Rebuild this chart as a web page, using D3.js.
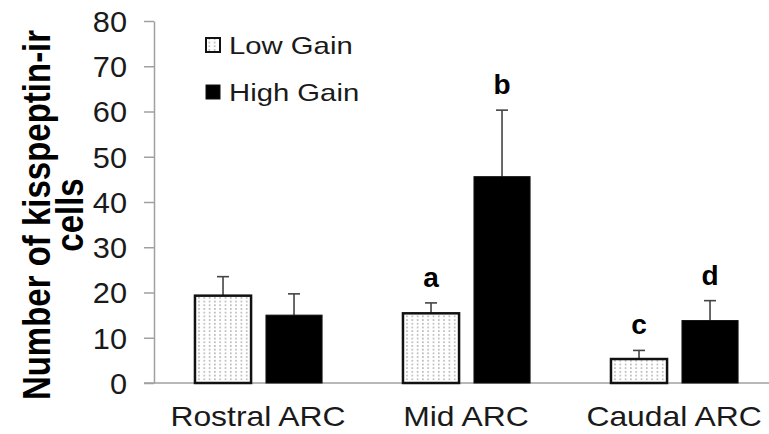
<!DOCTYPE html>
<html>
<head>
<meta charset="utf-8">
<script src="https://cdn.jsdelivr.net/npm/d3@7"></script>
<style>
  body { margin: 0; background: #fff; }
  svg { display: block; font-family: "Liberation Sans", Arial, sans-serif; }
</style>
</head>
<body>
<div id="chart"></div>
<script>
// data
var categories = ["Rostral ARC", "Mid ARC", "Caudal ARC"];
var series = ["Low Gain", "High Gain"];
var lowGain = [19.3, 15.4, 5.3];
var lowErr = [4.2, 2.3, 1.9];
var highGain = [15.0, 45.6, 13.8];
var highErr = [4.7, 14.7, 4.4];
var lowLetters = ["", "a", "c"];
var highLetters = ["", "b", "d"];
var yTicks = [0, 10, 20, 30, 40, 50, 60, 70, 80];

var svgWidth = 769;
var svgHeight = 434;

var svg = d3.select("#chart")
  .append("svg")
  .attr("width", svgWidth)
  .attr("height", svgHeight);

// dotted fill for the low gain bars
var defs = svg.append("defs");
var pat = defs.append("pattern")
  .attr("id", "dots")
  .attr("patternUnits", "userSpaceOnUse")
  .attr("width", 5.3)
  .attr("height", 3.7);
pat.append("rect").attr("width", 5.3).attr("height", 3.7).attr("fill", "#fff");
pat.append("circle").attr("cx", 2.6).attr("cy", 1.8).attr("r", 0.75).attr("fill", "#777");

var rows = categories.map(function(c, i) {
  return [
    {cat: c, key: series[0], value: lowGain[i], err: lowErr[i], letter: lowLetters[i]},
    {cat: c, key: series[1], value: highGain[i], err: highErr[i], letter: highLetters[i]}
  ];
});

var x0 = d3.scaleBand()
  .domain(categories)
  .range([154, 778])
  .padding(0);

var x1 = d3.scaleBand()
  .domain(series)
  .range([x0.bandwidth() * 0.197, x0.bandwidth() * 0.808])
  .paddingInner(0.21);

var y = d3.scaleLinear()
  .domain([0, 80])
  .range([383, 21]);

// y axis
var yAxis = svg.append("g")
  .attr("transform", "translate(154,0)")
  .call(d3.axisLeft(y).tickValues(yTicks).tickSize(10).tickSizeOuter(0).tickPadding(17));

yAxis.select(".domain").attr("stroke", "#a0a0a0").attr("stroke-width", 1.5);
yAxis.selectAll(".tick line").attr("stroke", "#a0a0a0").attr("stroke-width", 1.5);
yAxis.selectAll(".tick text")
  .attr("x", null)
  .attr("dy", "0.36em")
  .attr("transform", "translate(-27,0) scale(1.06,1)")
  .attr("font-size", 29)
  .attr("fill", "#1a1a1a")
  .attr("font-family", "'Liberation Sans', Arial, sans-serif");

// x axis baseline
svg.append("line")
  .attr("x1", 144)
  .attr("x2", svgWidth)
  .attr("y1", y(0))
  .attr("y2", y(0))
  .attr("stroke", "#a0a0a0")
  .attr("stroke-width", 1.5);

var groups = svg.selectAll(".group")
  .data(rows)
  .enter()
  .append("g")
  .attr("class", "group")
  .attr("transform", function(d) { return "translate(" + x0(d[0].cat) + ",0)"; });

var bars = groups.selectAll(".bar")
  .data(function(d) { return d; })
  .enter()
  .append("g")
  .attr("class", "bar");

// error bars (upper only)
bars.append("line")
  .attr("x1", function(d) { return x1(d.key) + x1.bandwidth() / 2; })
  .attr("x2", function(d) { return x1(d.key) + x1.bandwidth() / 2; })
  .attr("y1", function(d) { return y(d.value); })
  .attr("y2", function(d) { return y(d.value + d.err); })
  .attr("stroke", "#444")
  .attr("stroke-width", 1.6);

bars.append("line")
  .attr("x1", function(d) { return x1(d.key) + x1.bandwidth() / 2 - 6; })
  .attr("x2", function(d) { return x1(d.key) + x1.bandwidth() / 2 + 6; })
  .attr("y1", function(d) { return y(d.value + d.err); })
  .attr("y2", function(d) { return y(d.value + d.err); })
  .attr("stroke", "#444")
  .attr("stroke-width", 1.6);

bars.append("rect")
  .attr("x", function(d) { return x1(d.key); })
  .attr("y", function(d) { return y(d.value); })
  .attr("width", x1.bandwidth())
  .attr("height", function(d) { return y(0) - y(d.value); })
  .attr("fill", function(d) { return d.key === series[0] ? "url(#dots)" : "#000"; })
  .attr("stroke", "#111")
  .attr("stroke-width", function(d) { return d.key === series[0] ? 2.5 : 1; });

// significance letters
bars.append("text")
  .attr("x", function(d) { return x1(d.key) + x1.bandwidth() / 2; })
  .attr("y", function(d) { return y(d.value + d.err) - 16; })
  .attr("text-anchor", "middle")
  .attr("font-size", 28)
  .attr("font-weight", "bold")
  .attr("fill", "#000")
  .text(function(d) { return d.letter; });

// category labels
svg.selectAll(".cat")
  .data(categories)
  .enter()
  .append("text")
  .attr("class", "cat")
  .attr("text-anchor", "middle")
  .attr("transform", function(d) { return "translate(" + (x0(d) + x0.bandwidth() / 2) + ",426) scale(1.18,1)"; })
  .attr("font-size", 27)
  .attr("fill", "#1a1a1a")
  .text(function(d) { return d; });

// y axis title, two lines
var titleLines = ["Number of kisspeptin-ir", "cells"];
var titleX = [50, 83];

svg.selectAll(".ytitle")
  .data(titleLines)
  .enter()
  .append("text")
  .attr("class", "ytitle")
  .attr("text-anchor", "middle")
  .attr("font-size", 33)
  .attr("font-weight", "bold")
  .attr("fill", "#000")
  .attr("transform", function(d, i) { return "translate(" + titleX[i] + ",215) rotate(-90) scale(1,1.15)"; })
  .text(function(d) { return d; });

// legend
var legend = svg.append("g");
var legendY = [38, 85];

legend.selectAll("rect")
  .data(series)
  .enter()
  .append("rect")
  .attr("x", 206)
  .attr("y", function(d, i) { return legendY[i]; })
  .attr("width", 14)
  .attr("height", 14)
  .attr("fill", function(d, i) { return i === 0 ? "url(#dots)" : "#000"; })
  .attr("stroke", "#111")
  .attr("stroke-width", function(d, i) { return i === 0 ? 2 : 1; });

legend.selectAll("text")
  .data(series)
  .enter()
  .append("text")
  .attr("transform", function(d, i) { return "translate(229," + (legendY[i] + 16) + ") scale(1.22,1)"; })
  .attr("font-size", 24)
  .attr("fill", "#1a1a1a")
  .text(function(d) { return d; });
</script>
</body>
</html>
